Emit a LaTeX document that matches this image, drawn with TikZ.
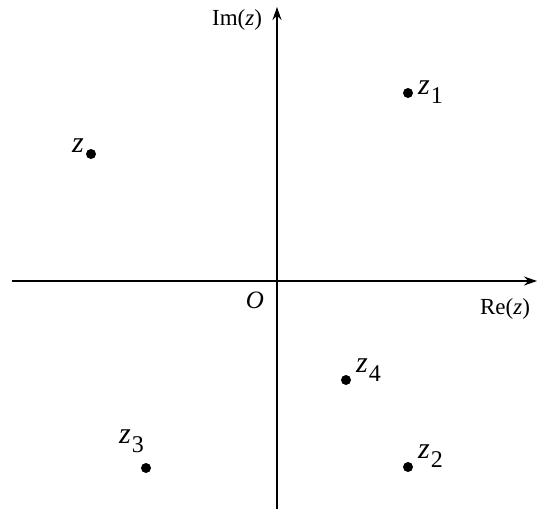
\documentclass[tikz,border=0pt]{standalone}
\usepackage{fontspec}
\setmainfont{Liberation Serif}
\usetikzlibrary{arrows.meta}
\newcommand{\zlab}[1]{\textit{z}\hspace{1pt}\raisebox{-9pt}{\fontsize{24}{24}\selectfont #1}}
\begin{document}
\begin{tikzpicture}[x=1pt,y=-1pt,
  axis/.style={line width=1.2pt,-{Stealth[length=13pt,width=9pt]}},
  pt/.style={circle,fill=black,inner sep=0pt,minimum size=10pt},
  lab/.style={font=\fontsize{30}{30}\selectfont,inner sep=0pt},
  alab/.style={font=\fontsize{23}{23}\selectfont,inner sep=0pt}]
\useasboundingbox (0,0) rectangle (538,509);
\coordinate (xl) at (12,281);
\coordinate (xr) at (537,281);
\coordinate (yb) at (277,509);
\coordinate (yt) at (277,7);
\draw[axis] (xl) -- (xr);
\draw[axis] (yb) -- (yt);
\node[alab] (im) at (237,20) {Im(\textit{z})};
\node[alab] (re) at (505,309) {Re(\textit{z})};
\node[font=\fontsize{25}{25}\selectfont,inner sep=0pt] (o) at (255,300) {\textit{O}};
\node[pt] (p) at (91,154) {};
\node[pt] (p1) at (408,93) {};
\node[pt] (p2) at (408,467) {};
\node[pt] (p3) at (146,468) {};
\node[pt] (p4) at (346,380) {};
\node[lab,anchor=east] (l) at (84,146) {\textit{z}};
\node[lab,anchor=west] (l1) at (418,92) {\zlab{1}};
\node[lab,anchor=west] (l2) at (418,456) {\zlab{2}};
\node[lab,anchor=west] (l4) at (356,370) {\zlab{4}};
\node[lab,anchor=west] (l3) at (119,441) {\zlab{3}};
\end{tikzpicture}
\end{document}
